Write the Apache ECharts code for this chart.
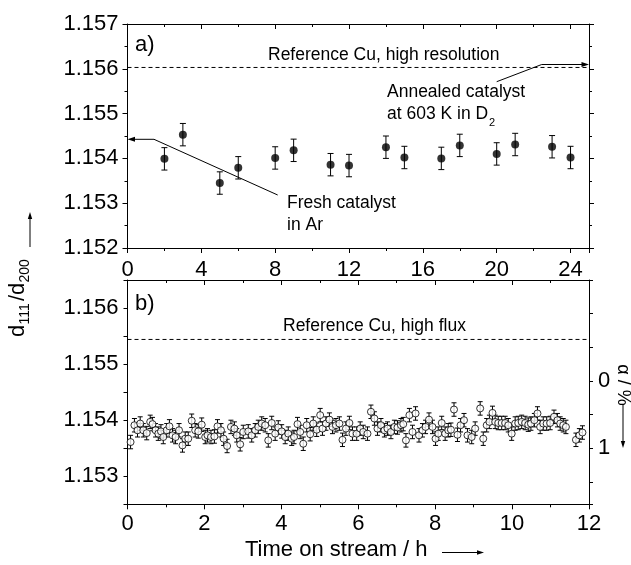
<!DOCTYPE html>
<html><head><meta charset="utf-8">
<script src="https://cdn.jsdelivr.net/npm/echarts@6/dist/echarts.min.js"></script>
<style>html,body{margin:0;padding:0;background:#fff}#c{width:631px;height:565px}</style>
</head><body><div id="c"></div>
<script>
// ---------- data ----------
const timesA = [2, 3, 5, 6, 8, 9, 11, 12, 14, 15, 17, 18, 20, 21, 23, 24];
const valuesA = [1.15399, 1.15453, 1.15345, 1.15379, 1.15401, 1.15418, 1.15386, 1.15384,
                 1.15425, 1.15402, 1.15400, 1.15429, 1.15410, 1.15431, 1.15426, 1.15402];
const errA = 0.00025;

const timesB = [
  0.08,0.18,0.26,0.33,0.41,0.50,0.59,0.65,0.73,0.80,0.87,0.93,1.02,1.09,1.17,1.25,1.34,1.43,1.50,1.58,
  1.67,1.76,1.84,1.93,2.02,2.08,2.17,2.26,2.34,2.43,2.50,2.59,2.69,2.78,2.84,2.93,3.01,
  3.14,3.23,3.32,3.40,3.49,3.58,3.66,3.75,3.84,3.92,4.01,4.10,4.18,4.27,4.33,4.42,4.49,4.57,4.66,4.75,
  4.83,4.92,5.01,5.07,5.16,5.25,5.33,5.42,5.51,5.59,5.68,5.77,5.85,
  5.96,6.05,6.13,6.24,6.33,6.42,6.50,6.59,6.68,6.76,6.85,6.94,7.02,7.11,7.17,7.24,7.33,7.41,7.49,7.58,
  7.67,7.75,7.84,7.93,8.01,8.08,8.17,8.26,8.34,8.41,8.49,8.58,8.66,8.75,8.84,
  8.95,9.04,9.17,9.25,9.34,9.41,9.49,9.56,9.64,9.73,9.82,9.90,9.99,10.08,10.16,10.25,10.34,10.42,10.49,
  10.58,10.66,10.73,10.81,10.90,10.99,11.09,11.18,11.25,11.33,11.40,11.66,11.75,11.83
];
const valuesB = [
  1.15361,1.15391,1.15382,1.15394,1.15382,1.15377,1.15397,1.15393,1.15382,1.15376,1.15380,1.15370,1.15382,1.15389,1.15373,1.15370,1.15382,1.15355,1.15367,1.15367,
  1.15399,1.15382,1.15380,1.15392,1.15370,1.15373,1.15370,1.15371,1.15389,1.15382,1.15367,1.15354,1.15388,1.15385,1.15373,1.15357,1.15379,
  1.15380,1.15373,1.15382,1.15388,1.15394,1.15391,1.15364,1.15395,1.15376,1.15387,1.15380,1.15370,1.15376,1.15367,1.15370,1.15393,1.15379,1.15358,1.15391,1.15375,
  1.15394,1.15383,1.15409,1.15385,1.15394,1.15401,1.15388,1.15391,1.15394,1.15365,1.15385,1.15395,1.15376,
  1.15376,1.15385,1.15379,1.15376,1.15415,1.15403,1.15385,1.15391,1.15382,1.15385,1.15379,1.15388,1.15387,1.15391,1.15393,1.15364,1.15409,1.15379,1.15412,1.15373,
  1.15382,1.15388,1.15401,1.15388,1.15367,1.15376,1.15395,1.15376,1.15382,1.15383,1.15419,1.15374,1.15391,1.15400,1.15373,
  1.15370,1.15385,1.15421,1.15367,1.15391,1.15397,1.15413,1.15397,1.15395,1.15395,1.15395,1.15391,1.15376,1.15394,1.15395,1.15397,1.15395,1.15392,1.15394,
  1.15400,1.15412,1.15388,1.15394,1.15394,1.15395,1.15406,1.15400,1.15394,1.15391,1.15388,1.15365,1.15373,1.15378
];
const errB = 0.00012;

const refA = 1.15603;   // Reference Cu, high resolution
const refB = 1.15544;   // Reference Cu, high flux

const xRangeA = [0, 25];
const xRangeB = [0, 12];
const xLabelsA = [0, 4, 8, 12, 16, 20, 24];
const xLabelsB = [0, 2, 4, 6, 8, 10, 12];
const yLabelsA = ['1.152', '1.153', '1.154', '1.155', '1.156', '1.157'];
const yLabelsB = ['1.153', '1.154', '1.155', '1.156'];
const alphaLabels = [0, 1];

// ---------- chart ----------
const FONT = '"Liberation Sans", Arial, sans-serif';
const chart = echarts.init(document.getElementById('c'), null, {renderer: 'canvas'});

function baseAxis(extra) {
  const ax = {
    type: 'value',
    axisLine: {show: true, onZero: false, lineStyle: {color: '#000', width: 1}},
    axisTick: {show: true, inside: false, length: 5, lineStyle: {color: '#000', width: 1}},
    splitLine: {show: false},
    axisLabel: {show: true, color: '#000', fontSize: 22, fontFamily: FONT, margin: 9},
    animation: false
  };
  return Object.assign(ax, extra);
}
const fmtX = labels => v => (labels.some(l => Math.abs(l - v) < 1e-6) ? String(Math.round(v)) : '');
const fmtY = labels => v => { const s = v.toFixed(3); return (labels.includes(s) && Math.abs(v - parseFloat(s)) < 1e-7) ? s : ''; };
const fmtAlpha = v => { const f = alphaLabels.find(l => Math.abs(l - v) < 1e-6); return f === undefined ? '' : String(f); };

function errRender(capHalf) {
  return function (params, api) {
    const x = api.value(0), lo = api.value(1), hi = api.value(2);
    const pLo = api.coord([x, lo]), pHi = api.coord([x, hi]);
    const s = {stroke: '#000', lineWidth: 1};
    return {type: 'group', children: [
      {type: 'line', shape: {x1: pLo[0], y1: pLo[1], x2: pHi[0], y2: pHi[1]}, style: s},
      {type: 'line', shape: {x1: pLo[0] - capHalf, y1: pLo[1], x2: pLo[0] + capHalf, y2: pLo[1]}, style: s},
      {type: 'line', shape: {x1: pHi[0] - capHalf, y1: pHi[1], x2: pHi[0] + capHalf, y2: pHi[1]}, style: s}
    ]};
  };
}

const dashStyle = {color: '#000', width: 1, type: [4, 3]};
const minor = {show: true, splitNumber: 2, length: 3, lineStyle: {color: '#000'}};

const option = {
  animation: false,
  backgroundColor: '#fff',
  grid: [
    {left: 127.5, top: 24, width: 461.5, height: 224},
    {left: 127.5, top: 280, width: 461.5, height: 224.3}
  ],
  xAxis: [
    baseAxis({gridIndex: 0, position: 'bottom', min: xRangeA[0], max: xRangeA[1], interval: 4, minorTick: minor,
      axisLabel: {show: true, color: '#000', fontSize: 22, fontFamily: FONT, margin: 11, formatter: fmtX(xLabelsA)}}),
    baseAxis({gridIndex: 0, position: 'top', min: xRangeA[0], max: xRangeA[1], interval: 4, minorTick: minor,
      axisTick: {show: true, inside: true, length: 5, lineStyle: {color: '#000'}},
      axisLabel: {show: false}}),
    baseAxis({gridIndex: 1, position: 'bottom', min: xRangeB[0], max: xRangeB[1], interval: 2, minorTick: minor,
      axisLabel: {show: true, color: '#000', fontSize: 22, fontFamily: FONT, margin: 9, formatter: fmtX(xLabelsB)}}),
    baseAxis({gridIndex: 1, position: 'top', min: xRangeB[0], max: xRangeB[1], interval: 2, minorTick: minor,
      axisTick: {show: true, inside: true, length: 5, lineStyle: {color: '#000'}},
      axisLabel: {show: false}})
  ],
  yAxis: [
    baseAxis({gridIndex: 0, position: 'left', min: 1.152, max: 1.157, interval: 0.001, minorTick: minor,
      axisLabel: {show: true, color: '#000', fontSize: 22, fontFamily: FONT, margin: 9, formatter: fmtY(yLabelsA)}}),
    baseAxis({gridIndex: 0, position: 'right', min: 1.152, max: 1.157, interval: 0.001, minorTick: minor,
      axisLabel: {show: false}}),
    baseAxis({gridIndex: 1, position: 'left', min: 1.1525, max: 1.1565, interval: 0.0005,
      axisTick: {show: true, inside: false, length: 4, lineStyle: {color: '#000'}},
      axisLabel: {show: true, color: '#000', fontSize: 22, fontFamily: FONT, margin: 9, formatter: fmtY(yLabelsB)}}),
    baseAxis({gridIndex: 1, position: 'right', inverse: true, min: -1.5, max: 1.83, interval: 0.5,
      axisTick: {show: true, inside: false, length: 4, lineStyle: {color: '#000'}},
      axisLabel: {show: true, color: '#000', fontSize: 22, fontFamily: FONT, margin: 9, formatter: fmtAlpha}})
  ],
  series: [
    {type: 'line', xAxisIndex: 0, yAxisIndex: 0, symbol: 'none', silent: true, z: 1,
      lineStyle: dashStyle, data: [[xRangeA[0], refA], [xRangeA[1], refA]]},
    {type: 'custom', xAxisIndex: 0, yAxisIndex: 0, renderItem: errRender(3), silent: true, z: 2,
      encode: {x: 0, y: [1, 2]},
      data: timesA.map((t, i) => [t, valuesA[i] - errA, valuesA[i] + errA])},
    {type: 'scatter', xAxisIndex: 0, yAxisIndex: 0, symbol: 'circle', symbolSize: 8, z: 3,
      itemStyle: {color: '#000'},
      data: timesA.map((t, i) => [t, valuesA[i]])},
    {type: 'line', xAxisIndex: 2, yAxisIndex: 2, symbol: 'none', silent: true, z: 1,
      lineStyle: dashStyle, data: [[xRangeB[0], refB], [xRangeB[1], refB]]},
    {type: 'custom', xAxisIndex: 2, yAxisIndex: 2, renderItem: errRender(2.5), silent: true, z: 2,
      encode: {x: 0, y: [1, 2]},
      data: timesB.map((t, i) => [t, valuesB[i] - errB, valuesB[i] + errB])},
    {type: 'scatter', xAxisIndex: 2, yAxisIndex: 2, symbol: 'circle', symbolSize: 7, z: 3,
      itemStyle: {color: '#fff', borderColor: '#000', borderWidth: 1},
      data: timesB.map((t, i) => [t, valuesB[i]])}
  ],
  graphic: [
    {type: 'text', x: 135, y: 45, style: {text: 'a)', fontSize: 22, fontFamily: FONT, fill: '#000', verticalAlign: 'middle'}},
    {type: 'text', x: 268, y: 55, style: {text: 'Reference Cu, high resolution', fontSize: 17.5, fontFamily: FONT, fill: '#000', verticalAlign: 'middle'}},
    {type: 'text', x: 387, y: 92, style: {text: 'Annealed catalyst', fontSize: 17.5, fontFamily: FONT, fill: '#000', verticalAlign: 'middle'}},
    {type: 'text', x: 387, y: 114, style: {text: 'at 603 K in D', fontSize: 17.5, fontFamily: FONT, fill: '#000', verticalAlign: 'middle'}},
    {type: 'text', x: 489, y: 123, style: {text: '2', fontSize: 11, fontFamily: FONT, fill: '#000', verticalAlign: 'middle'}},
    {type: 'text', x: 287, y: 203, style: {text: 'Fresh catalyst', fontSize: 17.5, fontFamily: FONT, fill: '#000', verticalAlign: 'middle'}},
    {type: 'text', x: 287, y: 225, style: {text: 'in Ar', fontSize: 17.5, fontFamily: FONT, fill: '#000', verticalAlign: 'middle'}},
    {type: 'text', x: 135, y: 304, style: {text: 'b)', fontSize: 22, fontFamily: FONT, fill: '#000', verticalAlign: 'middle'}},
    {type: 'text', x: 283, y: 326, style: {text: 'Reference Cu, high flux', fontSize: 17.5, fontFamily: FONT, fill: '#000', verticalAlign: 'middle'}},
    // annotation arrows
    {type: 'polyline', shape: {points: [[277.7, 195], [154, 139.3], [133, 139.3]]}, style: {stroke: '#000', lineWidth: 1, fill: null}},
    {type: 'polygon', shape: {points: [[127.5, 139.3], [135, 136.8], [135, 141.8]]}, style: {fill: '#000'}},
    {type: 'polyline', shape: {points: [[496.7, 81.7], [541.7, 64.5], [583, 64.5]]}, style: {stroke: '#000', lineWidth: 1, fill: null}},
    {type: 'polygon', shape: {points: [[589, 64.5], [581.5, 62], [581.5, 67]]}, style: {fill: '#000'}},
    // x axis name
    {type: 'text', x: 245, y: 550, style: {text: 'Time on stream / h', fontSize: 22, fontFamily: FONT, fill: '#000', verticalAlign: 'middle'}},
    {type: 'line', shape: {x1: 442, y1: 552.5, x2: 479, y2: 552.5}, style: {stroke: '#000', lineWidth: 1}},
    {type: 'polygon', shape: {points: [[484, 552.5], [477, 550.3], [477, 554.7]]}, style: {fill: '#000'}},
    // y axis name (rotated)
    {type: 'group', x: 24, y: 337, rotation: Math.PI / 2, children: [
      {type: 'text', x: 0, y: 5, style: {text: 'd', fontSize: 22, fontFamily: FONT, fill: '#000', verticalAlign: 'bottom'}},
      {type: 'text', x: 12.5, y: 8, style: {text: '111', fontSize: 14, fontFamily: FONT, fill: '#000', verticalAlign: 'bottom'}},
      {type: 'text', x: 36, y: 5, style: {text: '/d', fontSize: 22, fontFamily: FONT, fill: '#000', verticalAlign: 'bottom'}},
      {type: 'text', x: 54.5, y: 8, style: {text: '200', fontSize: 14, fontFamily: FONT, fill: '#000', verticalAlign: 'bottom'}},
      {type: 'line', shape: {x1: 90, y1: 6, x2: 120, y2: 6}, style: {stroke: '#000', lineWidth: 1}},
      {type: 'polygon', shape: {points: [[125, 6], [118, 3.8], [118, 8.2]]}, style: {fill: '#000'}}
    ]},
    // right axis name
    {type: 'text', x: 623, y: 385, rotation: -Math.PI / 2, style: {text: 'α / %', fontSize: 18, fontFamily: FONT, fill: '#000', align: 'center', verticalAlign: 'middle'}},
    {type: 'line', shape: {x1: 623, y1: 404, x2: 623, y2: 442}, style: {stroke: '#000', lineWidth: 1}},
    {type: 'polygon', shape: {points: [[623, 448], [620.8, 441], [625.2, 441]]}, style: {fill: '#000'}}
  ]
};
chart.setOption(option);
</script>
</body></html>
